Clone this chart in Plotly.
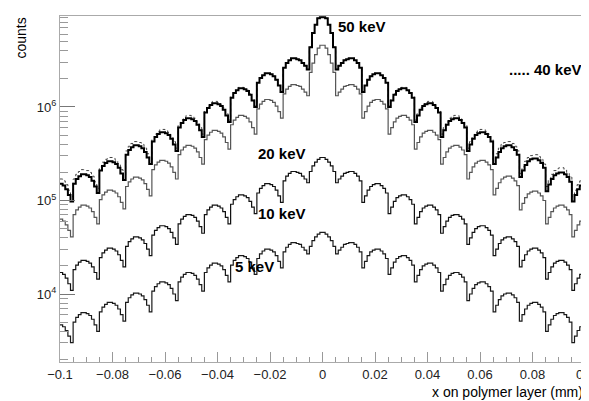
import numpy as np
import plotly.graph_objects as go

# ---- binning of the histograms (mm) ----
x_min, x_max, n_bins = -0.1, 0.1, 200
bin_edges = np.linspace(x_min, x_max, n_bins + 1)
x_tick_values = [-0.1, -0.08, -0.06, -0.04, -0.02, 0, 0.02, 0.04, 0.06, 0.08, 0.1]
x_tick_labels = ["\u22120.1", "\u22120.08", "\u22120.06", "\u22120.04", "\u22120.02",
                 "0", "0.02", "0.04", "0.06", "0.08", "0.1"]

# ---- bin contents, as log10(counts) ----
log_counts_50keV = [
    5.18, 5.16, 5.12, 5.06, 4.99,
    5.18, 5.23, 5.26, 5.28, 5.28, 5.27, 5.25, 5.21, 5.15, 5.08,
    5.32, 5.37, 5.40, 5.42, 5.42, 5.41, 5.39, 5.35, 5.29, 5.22,
    5.49, 5.54, 5.57, 5.59, 5.59, 5.58, 5.56, 5.52, 5.46, 5.39,
    5.63, 5.68, 5.71, 5.73, 5.73, 5.72, 5.70, 5.66, 5.60, 5.53,
    5.78, 5.83, 5.86, 5.88, 5.88, 5.87, 5.85, 5.81, 5.75, 5.68,
    5.94, 5.99, 6.02, 6.04, 6.04, 6.03, 6.01, 5.97, 5.91, 5.84,
    6.10, 6.15, 6.18, 6.20, 6.20, 6.19, 6.17, 6.13, 6.07, 6.00,
    6.26, 6.31, 6.34, 6.36, 6.36, 6.35, 6.33, 6.29, 6.23, 6.16,
    6.42, 6.47, 6.50, 6.52, 6.52, 6.51, 6.50, 6.47, 6.44, 6.40,
    6.64, 6.79, 6.88, 6.95, 6.96, 6.96, 6.95, 6.88, 6.79, 6.64,
    6.40, 6.44, 6.47, 6.50, 6.51, 6.52, 6.52, 6.50, 6.47, 6.42,
    6.16, 6.23, 6.29, 6.33, 6.35, 6.36, 6.36, 6.34, 6.31, 6.26,
    6.00, 6.07, 6.13, 6.17, 6.19, 6.20, 6.20, 6.18, 6.15, 6.10,
    5.84, 5.91, 5.97, 6.01, 6.03, 6.04, 6.04, 6.02, 5.99, 5.94,
    5.68, 5.75, 5.81, 5.85, 5.87, 5.88, 5.88, 5.86, 5.83, 5.78,
    5.53, 5.60, 5.66, 5.70, 5.72, 5.73, 5.73, 5.71, 5.68, 5.63,
    5.39, 5.46, 5.52, 5.56, 5.58, 5.59, 5.59, 5.57, 5.54, 5.49,
    5.25, 5.32, 5.38, 5.42, 5.44, 5.45, 5.45, 5.43, 5.40, 5.35,
    5.10, 5.17, 5.23, 5.27, 5.29, 5.30, 5.30, 5.28, 5.25, 5.20,
    4.99, 5.06, 5.12, 5.16, 5.18,
]

log_counts_40keV = [
    5.23, 5.21, 5.17, 5.11, 5.04,
    5.23, 5.28, 5.31, 5.33, 5.33, 5.32, 5.30, 5.26, 5.20, 5.13,
    5.36, 5.41, 5.44, 5.46, 5.46, 5.45, 5.43, 5.39, 5.33, 5.26,
    5.53, 5.58, 5.61, 5.63, 5.63, 5.62, 5.60, 5.56, 5.50, 5.43,
    5.66, 5.71, 5.74, 5.76, 5.76, 5.75, 5.73, 5.69, 5.63, 5.56,
    5.81, 5.86, 5.89, 5.91, 5.91, 5.90, 5.88, 5.84, 5.78, 5.71,
    5.96, 6.01, 6.04, 6.06, 6.06, 6.05, 6.03, 5.99, 5.93, 5.86,
    6.11, 6.16, 6.19, 6.21, 6.21, 6.20, 6.18, 6.14, 6.08, 6.01,
    6.26, 6.31, 6.34, 6.36, 6.36, 6.35, 6.33, 6.29, 6.23, 6.16,
    6.42, 6.47, 6.50, 6.52, 6.52, 6.51, 6.50, 6.47, 6.44, 6.40,
    6.64, 6.79, 6.88, 6.95, 6.96, 6.96, 6.95, 6.88, 6.79, 6.64,
    6.40, 6.44, 6.47, 6.50, 6.51, 6.52, 6.52, 6.50, 6.47, 6.42,
    6.16, 6.23, 6.29, 6.33, 6.35, 6.36, 6.36, 6.34, 6.31, 6.26,
    6.01, 6.08, 6.14, 6.18, 6.20, 6.21, 6.21, 6.19, 6.16, 6.11,
    5.86, 5.93, 5.99, 6.03, 6.05, 6.06, 6.06, 6.04, 6.01, 5.96,
    5.71, 5.78, 5.84, 5.88, 5.90, 5.91, 5.91, 5.89, 5.86, 5.81,
    5.56, 5.63, 5.69, 5.73, 5.75, 5.76, 5.76, 5.74, 5.71, 5.66,
    5.43, 5.50, 5.56, 5.60, 5.62, 5.63, 5.63, 5.61, 5.58, 5.53,
    5.29, 5.36, 5.42, 5.46, 5.48, 5.49, 5.49, 5.47, 5.44, 5.39,
    5.15, 5.22, 5.28, 5.32, 5.34, 5.35, 5.35, 5.33, 5.30, 5.25,
    5.04, 5.11, 5.17, 5.21, 5.23,
]

log_counts_20keV = [
    4.80, 4.78, 4.74, 4.68, 4.61,
    4.85, 4.90, 4.93, 4.95, 4.95, 4.94, 4.92, 4.88, 4.82, 4.75,
    5.01, 5.06, 5.09, 5.11, 5.11, 5.10, 5.08, 5.04, 4.98, 4.91,
    5.15, 5.20, 5.23, 5.25, 5.25, 5.24, 5.22, 5.18, 5.12, 5.05,
    5.33, 5.38, 5.41, 5.43, 5.43, 5.42, 5.40, 5.36, 5.30, 5.23,
    5.49, 5.54, 5.57, 5.59, 5.59, 5.58, 5.56, 5.52, 5.46, 5.39,
    5.65, 5.70, 5.73, 5.75, 5.75, 5.74, 5.72, 5.68, 5.62, 5.55,
    5.81, 5.86, 5.89, 5.91, 5.91, 5.90, 5.88, 5.84, 5.78, 5.71,
    5.98, 6.03, 6.06, 6.08, 6.08, 6.07, 6.05, 6.01, 5.95, 5.88,
    6.14, 6.19, 6.22, 6.24, 6.24, 6.23, 6.22, 6.19, 6.16, 6.12,
    6.37, 6.47, 6.56, 6.63, 6.66, 6.66, 6.63, 6.56, 6.47, 6.37,
    6.12, 6.16, 6.19, 6.22, 6.23, 6.24, 6.24, 6.22, 6.19, 6.14,
    5.88, 5.95, 6.01, 6.05, 6.07, 6.08, 6.08, 6.06, 6.03, 5.98,
    5.71, 5.78, 5.84, 5.88, 5.90, 5.91, 5.91, 5.89, 5.86, 5.81,
    5.55, 5.62, 5.68, 5.72, 5.74, 5.75, 5.75, 5.73, 5.70, 5.65,
    5.39, 5.46, 5.52, 5.56, 5.58, 5.59, 5.59, 5.57, 5.54, 5.49,
    5.23, 5.30, 5.36, 5.40, 5.42, 5.43, 5.43, 5.41, 5.38, 5.33,
    5.06, 5.13, 5.19, 5.23, 5.25, 5.26, 5.26, 5.24, 5.21, 5.16,
    4.90, 4.97, 5.03, 5.07, 5.09, 5.10, 5.10, 5.08, 5.05, 5.00,
    4.75, 4.82, 4.88, 4.92, 4.94, 4.95, 4.95, 4.93, 4.90, 4.85,
    4.61, 4.68, 4.74, 4.78, 4.80,
]

log_counts_10keV = [
    4.23, 4.21, 4.17, 4.11, 4.04,
    4.26, 4.31, 4.34, 4.36, 4.36, 4.35, 4.33, 4.29, 4.23, 4.16,
    4.39, 4.44, 4.47, 4.49, 4.49, 4.48, 4.46, 4.42, 4.36, 4.29,
    4.51, 4.56, 4.59, 4.61, 4.61, 4.60, 4.58, 4.54, 4.48, 4.41,
    4.63, 4.68, 4.71, 4.73, 4.73, 4.72, 4.70, 4.66, 4.60, 4.53,
    4.75, 4.80, 4.83, 4.85, 4.85, 4.84, 4.82, 4.78, 4.72, 4.65,
    4.85, 4.90, 4.93, 4.95, 4.95, 4.94, 4.92, 4.88, 4.82, 4.75,
    4.96, 5.01, 5.04, 5.06, 5.06, 5.05, 5.03, 4.99, 4.93, 4.86,
    5.08, 5.13, 5.16, 5.18, 5.18, 5.17, 5.15, 5.11, 5.05, 4.98,
    5.21, 5.26, 5.29, 5.31, 5.31, 5.30, 5.29, 5.26, 5.23, 5.19,
    5.31, 5.37, 5.41, 5.44, 5.46, 5.46, 5.44, 5.41, 5.37, 5.31,
    5.19, 5.23, 5.26, 5.29, 5.30, 5.31, 5.31, 5.29, 5.26, 5.21,
    4.98, 5.05, 5.11, 5.15, 5.17, 5.18, 5.18, 5.16, 5.13, 5.08,
    4.86, 4.93, 4.99, 5.03, 5.05, 5.06, 5.06, 5.04, 5.01, 4.96,
    4.75, 4.82, 4.88, 4.92, 4.94, 4.95, 4.95, 4.93, 4.90, 4.85,
    4.65, 4.72, 4.78, 4.82, 4.84, 4.85, 4.85, 4.83, 4.80, 4.75,
    4.53, 4.60, 4.66, 4.70, 4.72, 4.73, 4.73, 4.71, 4.68, 4.63,
    4.41, 4.48, 4.54, 4.58, 4.60, 4.61, 4.61, 4.59, 4.56, 4.51,
    4.29, 4.36, 4.42, 4.46, 4.48, 4.49, 4.49, 4.47, 4.44, 4.39,
    4.16, 4.23, 4.29, 4.33, 4.35, 4.36, 4.36, 4.34, 4.31, 4.26,
    4.04, 4.11, 4.17, 4.21, 4.23,
]

log_counts_5keV = [
    3.67, 3.65, 3.61, 3.55, 3.48,
    3.70, 3.75, 3.78, 3.80, 3.80, 3.79, 3.77, 3.73, 3.67, 3.60,
    3.81, 3.86, 3.89, 3.91, 3.91, 3.90, 3.88, 3.84, 3.78, 3.71,
    3.91, 3.96, 3.99, 4.01, 4.01, 4.00, 3.98, 3.94, 3.88, 3.81,
    4.03, 4.08, 4.11, 4.13, 4.13, 4.12, 4.10, 4.06, 4.00, 3.93,
    4.13, 4.18, 4.21, 4.23, 4.23, 4.22, 4.20, 4.16, 4.10, 4.03,
    4.23, 4.28, 4.31, 4.33, 4.33, 4.32, 4.30, 4.26, 4.20, 4.13,
    4.31, 4.36, 4.39, 4.41, 4.41, 4.40, 4.38, 4.34, 4.28, 4.21,
    4.38, 4.43, 4.46, 4.48, 4.48, 4.47, 4.45, 4.41, 4.35, 4.28,
    4.45, 4.50, 4.53, 4.55, 4.55, 4.54, 4.53, 4.50, 4.47, 4.43,
    4.51, 4.57, 4.61, 4.64, 4.66, 4.66, 4.64, 4.61, 4.57, 4.51,
    4.43, 4.47, 4.50, 4.53, 4.54, 4.55, 4.55, 4.53, 4.50, 4.45,
    4.28, 4.35, 4.41, 4.45, 4.47, 4.48, 4.48, 4.46, 4.43, 4.38,
    4.21, 4.28, 4.34, 4.38, 4.40, 4.41, 4.41, 4.39, 4.36, 4.31,
    4.13, 4.20, 4.26, 4.30, 4.32, 4.33, 4.33, 4.31, 4.28, 4.23,
    4.03, 4.10, 4.16, 4.20, 4.22, 4.23, 4.23, 4.21, 4.18, 4.13,
    3.93, 4.00, 4.06, 4.10, 4.12, 4.13, 4.13, 4.11, 4.08, 4.03,
    3.81, 3.88, 3.94, 3.98, 4.00, 4.01, 4.01, 3.99, 3.96, 3.91,
    3.71, 3.78, 3.84, 3.88, 3.90, 3.91, 3.91, 3.89, 3.86, 3.81,
    3.60, 3.67, 3.73, 3.77, 3.79, 3.80, 3.80, 3.78, 3.75, 3.70,
    3.48, 3.55, 3.61, 3.65, 3.67,
]

series_names = ["40 keV", "5 keV", "10 keV", "20 keV", "50 keV"]
series_logs = [log_counts_40keV, log_counts_5keV, log_counts_10keV,
               log_counts_20keV, log_counts_50keV]
series_colors = ["#444444", "#1a1a1a", "#111111", "#555555", "#000000"]
series_widths = [1.0, 1.2, 1.2, 1.2, 2.0]
series_dash = ["dot", "solid", "solid", "solid", "solid"]

label_texts = ["<b>50 keV</b>", "<b>..... 40 keV</b>", "<b>20 keV</b>",
               "<b>10 keV</b>", "<b>5 keV</b>"]
label_x = [0.0149, 0.0851, -0.0156, -0.0156, -0.026]
label_logy = [6.856, 6.396, 5.508, 4.866, 4.289]

FONT = "Liberation Sans, Arial, Helvetica, sans-serif"

fig = go.Figure()
for name, logs, col, w, dash in zip(series_names, series_logs, series_colors,
                                    series_widths, series_dash):
    assert len(logs) == n_bins
    counts = 10 ** np.array(logs)
    y = np.append(counts, counts[-1])
    fig.add_trace(go.Scatter(
        x=bin_edges, y=y, mode="lines", name=name,
        line=dict(shape="hv", color=col, width=w, dash=dash),
        hoverinfo="skip",
    ))

for t, xx, yy in zip(label_texts, label_x, label_logy):
    fig.add_annotation(x=xx, y=yy, xref="x", yref="y", text=t,
                       showarrow=False, font=dict(family=FONT, size=15, color="black"))

fig.add_annotation(x=-0.076, y=1.0, xref="paper", yref="paper", text="counts",
                   textangle=-90, showarrow=False, xanchor="center", yanchor="top",
                   font=dict(family=FONT, size=14, color="black"))
fig.add_annotation(x=1.0, y=-0.087, xref="paper", yref="paper",
                   text="x on polymer layer (mm)", showarrow=False,
                   xanchor="right", yanchor="middle",
                   font=dict(family=FONT, size=14, color="black"))

minor_y = [m * 10 ** e for e in range(3, 7) for m in range(2, 10)
           if 1.8e3 <= m * 10 ** e <= 9.3e6]

fig.update_xaxes(
    range=[x_min, x_max], tickmode="array",
    tickvals=x_tick_values, ticktext=x_tick_labels,
    ticklabeloverflow="allow", automargin=False,
    ticks="inside", ticklen=10, tickcolor="#999", tickwidth=1,
    minor=dict(ticks="inside", ticklen=5, tick0=0, dtick=0.005, tickcolor="#999"),
    showline=True, linecolor="#aaa", linewidth=1, mirror=True,
    showgrid=False, zeroline=False,
    tickfont=dict(family=FONT, size=13, color="#222"),
)
fig.update_yaxes(
    type="log", range=[3.273, 6.973], automargin=False,
    tickmode="array", tickvals=[1e4, 1e5, 1e6],
    ticktext=["10<sup>4</sup>", "10<sup>5</sup>", "10<sup>6</sup>"],
    ticks="inside", ticklen=15, tickcolor="#777", tickwidth=1,
    minor=dict(ticks="inside", ticklen=8, tickmode="array", tickvals=minor_y,
               tickcolor="#999"),
    showline=True, linecolor="#aaa", linewidth=1, mirror=True,
    showgrid=False, zeroline=False,
    tickfont=dict(family=FONT, size=13, color="#222"),
)
# the page body adds an 8 px offset, so the figure is 8 px smaller
fig.update_layout(
    width=581, height=393,
    margin=dict(l=52, r=4, t=8, b=39),
    paper_bgcolor="white", plot_bgcolor="white",
    showlegend=False,
    font=dict(family=FONT),
)
fig.write_html("out.html")
